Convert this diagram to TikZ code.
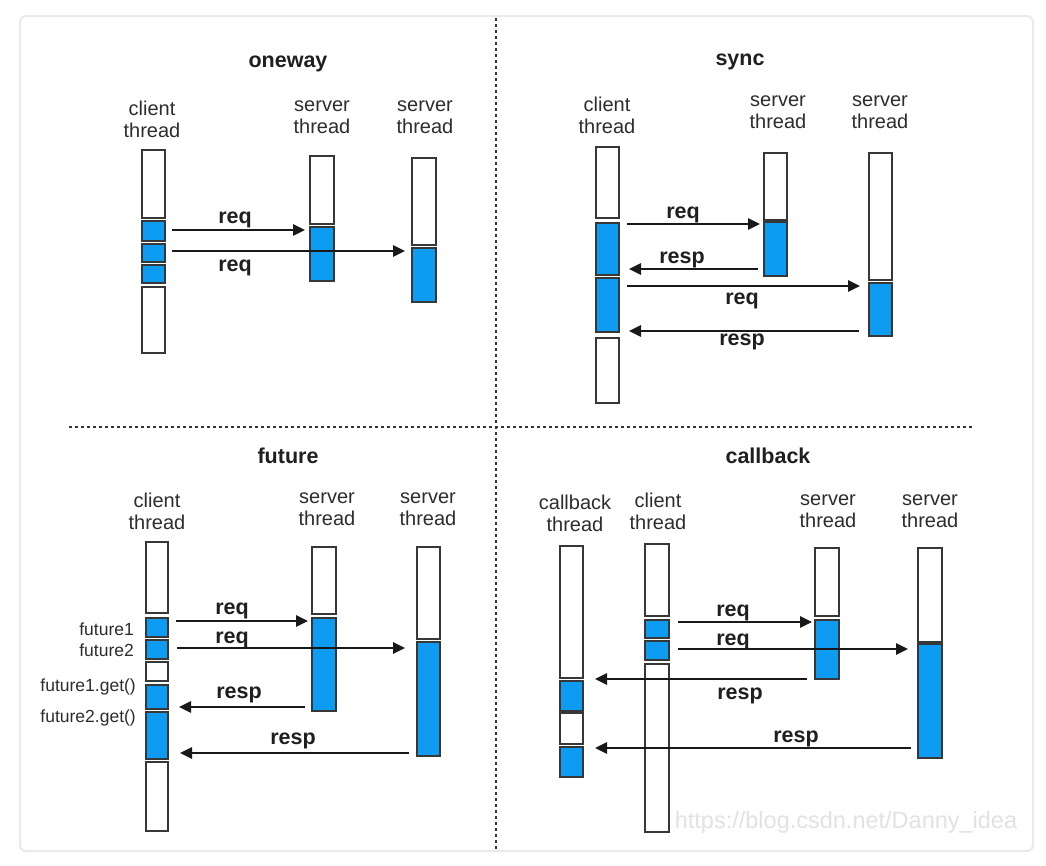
\documentclass[tikz,border=0pt]{standalone}
\usepackage{fontspec}
\setmainfont{Liberation Sans}
\usetikzlibrary{arrows.meta}
\definecolor{bblue}{RGB}{14,155,242}
\definecolor{edgec}{RGB}{55,55,55}
\definecolor{framec}{RGB}{234,234,234}
\definecolor{wmc}{RGB}{226,226,226}
\definecolor{txtc}{RGB}{45,45,45}
\newcommand\tbar[6]{\node[#2, anchor=north west, minimum width={#5pt-#3pt}, minimum height={#6pt-#4pt}] (#1) at (#3,#4) {};}
\tikzset{
  wbar/.style={draw=edgec, fill=white, line width=1.4pt, inner sep=0pt, outer sep=0pt},
  bbar/.style={wbar, fill=bblue},
  arr/.style={-{Triangle[length=12pt,width=11pt]}, line width=2.6pt, black!90},
  lbl/.style={font=\fontsize{20}{22}\selectfont, text=txtc, align=center, inner sep=0pt},
  ttl/.style={font=\fontsize{21.5}{24}\selectfont\bfseries, text=black!88, inner sep=0pt},
  msg/.style={font=\fontsize{21.5}{24}\selectfont\bfseries, text=black!88, inner sep=0pt},
  side/.style={font=\fontsize{17.5}{20}\selectfont, text=txtc, anchor=east, inner sep=0pt},
  dotline/.style={line width=2.6pt, dash pattern=on 2.6pt off 3.4pt, black!80},
}
\begin{document}
\begin{tikzpicture}[x=1pt,y=-1pt]
\useasboundingbox (0,0) rectangle (1046,865);
\fill[white] (0,0) rectangle (1046,865);
\draw[framec, line width=2pt, rounded corners=6pt] (20,16) rectangle (1033,851);
% dividers
\draw[dotline] (496,18) -- (496,850);
\draw[dotline] (69,427) -- (973,427);

% ===== oneway =====
\node[ttl] (aT) at (288,64) {oneway};
\node[lbl] (aLc) at (152,119) {client\\thread};
\node[lbl] (aLs1) at (322,117) {server\\thread};
\node[lbl] (aLs2) at (425,117) {server\\thread};
\tbar{aC1}{wbar}{142}{150}{165}{218}
\tbar{aC2}{bbar}{142}{221}{165}{241}
\tbar{aC3}{bbar}{142}{244}{165}{262}
\tbar{aC4}{bbar}{142}{265}{165}{283}
\tbar{aC5}{wbar}{142}{287}{165}{353}
\tbar{aS1}{wbar}{310}{156}{334}{224}
\tbar{aS2}{bbar}{310}{227}{334}{281}
\tbar{aR1}{wbar}{412}{158}{436}{245}
\tbar{aR2}{bbar}{412}{248}{436}{302}
\draw[arr, shorten <=7pt, shorten >=5pt] (aC2.east |- 0,230) -- (aS2.west |- 0,230);
\draw[arr, shorten <=7pt, shorten >=7pt] (aC3.east |- 0,251) -- (aR2.west |- 0,251);
\node[msg] (aM1) at (235,220) {req};
\node[msg] (aM2) at (235,268) {req};

% ===== sync =====
\node[ttl] (bT) at (740,62) {sync};
\node[lbl] (bLc) at (607,115) {client\\thread};
\node[lbl] (bLs1) at (778,112) {server\\thread};
\node[lbl] (bLs2) at (880,112) {server\\thread};
\tbar{bC1}{wbar}{596}{147}{619}{218}
\tbar{bC2}{bbar}{596}{223}{619}{275}
\tbar{bC3}{bbar}{596}{278}{619}{332}
\tbar{bC4}{wbar}{596}{338}{619}{403}
\tbar{bS1}{wbar}{764}{153}{787}{220}
\tbar{bS2}{bbar}{764}{222}{787}{276}
\tbar{bR1}{wbar}{869}{153}{892}{280}
\tbar{bR2}{bbar}{869}{283}{892}{336}
\draw[arr, shorten <=8pt, shorten >=4pt] (bC2.east |- 0,224) -- (bS2.west |- 0,224);
\draw[arr, shorten <=6pt, shorten >=10pt] (bS2.west |- 0,269) -- (bC2.east |- 0,269);
\draw[arr, shorten <=8pt, shorten >=9pt] (bC3.east |- 0,286) -- (bR2.west |- 0,286);
\draw[arr, shorten <=10pt, shorten >=10pt] (bR2.west |- 0,331) -- (bC3.east |- 0,331);
\node[msg] (bM1) at (683,215) {req};
\node[msg] (bM2) at (682,260) {resp};
\node[msg] (bM3) at (742,301) {req};
\node[msg] (bM4) at (742,342) {resp};

% ===== future =====
\node[ttl] (cT) at (288,456) {future};
\node[lbl] (cLc) at (157,511) {client\\thread};
\node[lbl] (cLs1) at (327,509) {server\\thread};
\node[lbl] (cLs2) at (428,509) {server\\thread};
\tbar{cC1}{wbar}{146}{542}{168}{613}
\tbar{cC2}{bbar}{146}{618}{168}{637}
\tbar{cC3}{bbar}{146}{640}{168}{659}
\tbar{cC4}{wbar}{146}{662}{168}{681}
\tbar{cC5}{bbar}{146}{685}{168}{709}
\tbar{cC6}{bbar}{146}{712}{168}{759}
\tbar{cC7}{wbar}{146}{762}{168}{831}
\tbar{cS1}{wbar}{312}{547}{336}{614}
\tbar{cS2}{bbar}{312}{618}{336}{711}
\tbar{cR1}{wbar}{417}{547}{440}{639}
\tbar{cR2}{bbar}{417}{642}{440}{756}
\node[side] (cF1) at (134,629) {future1};
\node[side] (cF2) at (134,650) {future2};
\node[side] (cF3) at (136,687) {future1.get()};
\node[side] (cF4) at (136,718) {future2.get()};
\draw[arr, shorten <=8pt, shorten >=4pt] (cC2.east |- 0,621) -- (cS2.west |- 0,621);
\draw[arr, shorten <=9pt, shorten >=12pt] (cC3.east |- 0,648) -- (cR2.west |- 0,648);
\draw[arr, shorten <=7pt, shorten >=11pt] (cS2.west |- 0,707) -- (cC5.east |- 0,707);
\draw[arr, shorten <=8pt, shorten >=12pt] (cR2.west |- 0,753) -- (cC6.east |- 0,753);
\node[msg] (cM1) at (232,611) {req};
\node[msg] (cM2) at (232,640) {req};
\node[msg] (cM3) at (239,695) {resp};
\node[msg] (cM4) at (293,741) {resp};

% ===== callback =====
\node[ttl] (dT) at (768,456) {callback};
\node[lbl] (dLb) at (575,513) {callback\\thread};
\node[lbl] (dLc) at (658,511) {client\\thread};
\node[lbl] (dLs1) at (828,511) {server\\thread};
\node[lbl] (dLs2) at (930,511) {server\\thread};
\tbar{dB1}{wbar}{560}{546}{583}{678}
\tbar{dB2}{bbar}{560}{681}{583}{711}
\tbar{dB3}{wbar}{560}{713}{583}{744}
\tbar{dB4}{bbar}{560}{747}{583}{777}
\tbar{dC1}{wbar}{645}{544}{669}{616}
\tbar{dC2}{bbar}{645}{620}{669}{638}
\tbar{dC3}{bbar}{645}{641}{669}{660}
\tbar{dC4}{wbar}{645}{664}{669}{832}
\tbar{dS1}{wbar}{815}{548}{839}{616}
\tbar{dS2}{bbar}{815}{620}{839}{679}
\tbar{dR1}{wbar}{918}{548}{942}{642}
\tbar{dR2}{bbar}{918}{644}{942}{758}
\draw[arr, shorten <=9pt, shorten >=3pt] (dC2.east |- 0,622) -- (dS2.west |- 0,622);
\draw[arr, shorten <=9pt, shorten >=10pt] (dC3.east |- 0,649) -- (dR2.west |- 0,649);
\draw[arr, shorten <=8pt, shorten >=12pt] (dS2.west |- 0,679) -- (dB2.east |- 0,679);
\draw[arr, shorten <=7pt, shorten >=12pt] (dR2.west |- 0,748) -- (dB4.east |- 0,748);
\node[msg] (dM1) at (733,613) {req};
\node[msg] (dM2) at (733,642) {req};
\node[msg] (dM3) at (740,696) {resp};
\node[msg] (dM4) at (796,739) {resp};

% watermark
\node[font=\fontsize{23.5}{26}\selectfont, text=wmc, inner sep=0pt] (wm) at (846,822) {https://blog.csdn.net/Danny\_idea};
\end{tikzpicture}
\end{document}
